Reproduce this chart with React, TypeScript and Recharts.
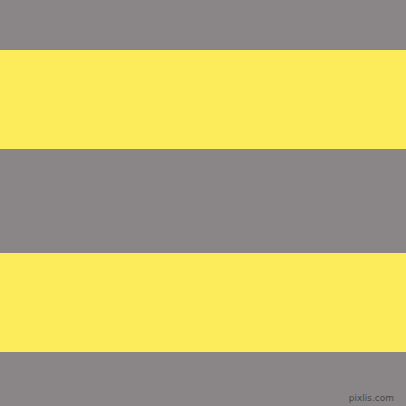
import { BarChart, Bar, XAxis, YAxis } from 'recharts'

const GREY = '#8a8587'
const YELLOW = '#fcec5c'

// stripe heights from top to bottom (px on a 406px canvas)
const STRIPE_KEYS = ['s1', 's2', 's3', 's4', 's5']
const STRIPE_HEIGHTS = [50, 99, 104, 99, 54]
const STRIPE_COLORS = [GREY, YELLOW, GREY, YELLOW, GREY]

const data = [
  STRIPE_KEYS.reduce<Record<string, number | string>>(
    (row, key, i) => {
      row[key] = STRIPE_HEIGHTS[i]
      return row
    },
    { name: 'stripes' },
  ),
]

const total = STRIPE_HEIGHTS.reduce((a, b) => a + b, 0)

export default function App() {
  return (
    <div style={{ position: 'fixed', left: 0, top: 0, width: 406, height: 406, background: GREY }}>
      <BarChart
        width={406}
        height={406}
        data={data}
        margin={{ top: 0, right: 0, left: 0, bottom: 0 }}
        barCategoryGap={0}
        barGap={0}
      >
        <XAxis dataKey="name" hide />
        <YAxis hide reversed domain={[0, total]} />
        {STRIPE_KEYS.map((key, i) => (
          <Bar key={key} dataKey={key} stackId="a" fill={STRIPE_COLORS[i]} isAnimationActive={false} />
        ))}
      </BarChart>
      <span
        style={{
          position: 'absolute',
          right: 12,
          bottom: 3,
          fontFamily: 'DejaVu Sans, sans-serif',
          fontSize: 9,
          color: '#4a4648',
          letterSpacing: 0,
        }}
      >
        pixlis.com
      </span>
    </div>
  )
}
